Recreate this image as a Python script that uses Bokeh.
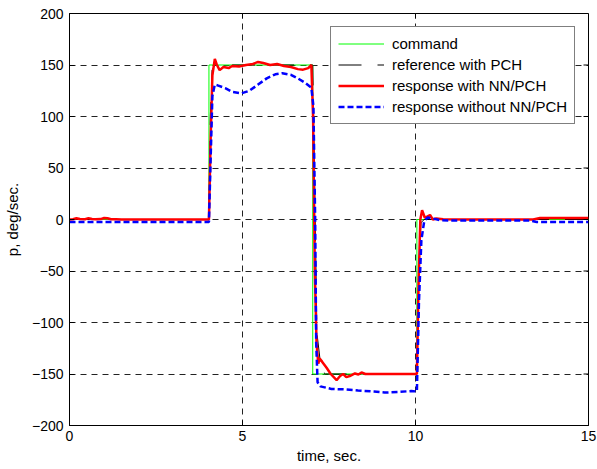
from bokeh.plotting import figure
from bokeh.models import Range1d, FixedTicker, Legend, LegendItem
from bokeh.embed import file_html
from bokeh.resources import INLINE

# ---- data ----
t_cmd = [0, 4.03, 4.03, 7.03, 7.03, 10.04, 10.04, 15]
cmd = [0, 0, 150, 150, -150, -150, 0, 0]

t_ref = [0, 4.03, 4.07, 4.12, 4.2, 7.03, 7.08, 7.15, 7.28, 7.4, 10.04, 10.09, 10.16, 10.25, 15]
ref = [0, 0, 100, 145, 150, 150, 50, -110, -147, -150, -150, -50, -3, 0, 0]

t_nn = [0, 0.1, 0.2, 0.3, 0.45, 0.55, 0.65, 0.75, 0.9, 1.0, 1.1, 1.2, 1.35, 1.5, 4.03,
        4.08, 4.13, 4.2, 4.26, 4.34, 4.45, 4.6, 4.7, 4.9, 5.1, 5.3, 5.45, 5.6, 5.8, 6.0,
        6.2, 6.4, 6.6, 6.75, 6.9, 6.99, 7.04, 7.09, 7.14, 7.19, 7.23, 7.3, 7.43, 7.55,
        7.72, 7.82, 7.91, 8.0, 8.1, 8.25, 8.35, 8.44, 8.55, 10.04, 10.09, 10.14, 10.19,
        10.27, 10.35, 10.42, 10.5, 10.6, 10.8, 11.5, 13.4, 13.6, 15]
nn = [0, 0.3, 1.2, 0.4, 0.2, 1.3, 0.5, 0.2, 0.4, 1.4, 1.2, 0.3, 0.2, 0, 0,
      80, 140, 156, 150, 145, 148, 147, 149, 148.5, 150, 151, 153, 152, 150, 151,
      149, 148, 146, 145.5, 147, 150, 100, -50, -120, -140, -135, -138, -144, -150,
      -156, -152, -150, -153, -152, -149.5, -150.5, -148.5, -150, -150, -60, 0, 9,
      1.7, 3, 4.4, 0, 1, 0.3, 0, 0, 1.5, 1.5]

t_wo = [0, 4.03, 4.08, 4.13, 4.2, 4.3, 4.5, 4.7, 4.97, 5.2, 5.45, 5.7, 5.95, 6.15,
        6.4, 6.6, 6.8, 6.99, 7.05, 7.1, 7.13, 7.17, 7.25, 7.57, 8.0, 8.34, 8.8, 9.11,
        9.5, 9.88, 10.04, 10.1, 10.17, 10.25, 10.35, 10.5, 10.7, 11.0, 13.3, 13.5, 15]
wo = [-2.5, -2.5, 60, 120, 131, 130, 127.5, 124, 122.5, 125, 131, 137, 141, 142,
      140.5, 137, 133, 128, 110, 0, -120, -158, -162, -164.5, -165, -166, -167, -168,
      -167.5, -166.5, -167, -80, -20, -2, 2, 1, -0.5, -1, -1, -2.5, -2.5]

x_ticks = [0, 5, 10, 15]
y_ticks = [-200, -150, -100, -50, 0, 50, 100, 150, 200]
x_lo, x_hi = 0, 15
y_lo, y_hi = -200, 200

FONT = "Liberation Sans"

p = figure(width=597, height=469, output_backend="svg", toolbar_location=None,
           x_range=Range1d(x_lo, x_hi), y_range=Range1d(y_lo, y_hi),
           min_border_left=68, min_border_right=9, min_border_top=13, min_border_bottom=44,
           x_axis_label="time, sec.", y_axis_label="p, deg/sec.")
p.outline_line_color = "black"
p.outline_line_width = 1
p.background_fill_color = "white"
p.border_fill_color = "white"

for ax in (p.xaxis[0], p.yaxis[0]):
    ax.major_tick_in = 5
    ax.major_tick_out = 0
    ax.minor_tick_line_color = None
    ax.axis_line_color = "black"
    ax.major_tick_line_color = "black"
    ax.major_label_text_font = FONT
    ax.major_label_text_font_size = "14px"
    ax.major_label_text_color = "black"
    ax.axis_label_text_font = FONT
    ax.axis_label_text_font_size = "15px"
    ax.axis_label_text_font_style = "normal"
    ax.axis_label_text_color = "black"
p.xaxis[0].ticker = FixedTicker(ticks=x_ticks)
p.yaxis[0].ticker = FixedTicker(ticks=y_ticks)
p.xaxis[0].major_label_standoff = 5
p.xaxis[0].axis_label_standoff = 3
p.yaxis[0].major_label_standoff = 6
p.yaxis[0].axis_label_standoff = 8

p.xgrid.ticker = FixedTicker(ticks=x_ticks)
p.ygrid.ticker = FixedTicker(ticks=y_ticks)
for g in (p.xgrid[0], p.ygrid[0]):
    g.grid_line_color = "#222222"
    g.grid_line_dash = "6 5"
    g.grid_line_width = 1

r1 = p.line(t_cmd, cmd, line_color="#00ff00", line_width=1)
r2 = p.line(t_ref, ref, line_color="black", line_width=1, line_dash="23 16")
r3 = p.line(t_nn, nn, line_color="#ff0000", line_width=2.5)
r4 = p.line(t_wo, wo, line_color="#0000ff", line_width=2.5, line_dash="6 3")

# mirrored inward ticks on the right and top edges of the box (MATLAB style)
tick_dx = (x_hi - x_lo) * 5 / 520
tick_dy = (y_hi - y_lo) * 5 / 411
p.segment(x0=[x_hi] * len(y_ticks), y0=y_ticks, x1=[x_hi - tick_dx] * len(y_ticks), y1=y_ticks,
          line_color="black", line_width=1)
p.segment(x0=x_ticks, y0=[y_hi] * len(x_ticks), x1=x_ticks, y1=[y_hi - tick_dy] * len(x_ticks),
          line_color="black", line_width=1)

legend = Legend(items=[
    LegendItem(label="command", renderers=[r1]),
    LegendItem(label="reference with PCH", renderers=[r2]),
    LegendItem(label="response with NN/PCH", renderers=[r3]),
    LegendItem(label="response without NN/PCH", renderers=[r4]),
], location=(261, 301))
legend.border_line_color = "black"
legend.border_line_width = 1
legend.background_fill_color = "white"
legend.background_fill_alpha = 1
legend.label_text_font = FONT
legend.label_text_font_size = "15px"
legend.label_text_color = "black"
legend.glyph_width = 46
legend.glyph_height = 19
legend.label_height = 19
legend.spacing = 2
legend.padding = 7
legend.margin = 0
legend.label_standoff = 8
p.add_layout(legend, "center")

open("out.html", "w").write(file_html(p, INLINE))
